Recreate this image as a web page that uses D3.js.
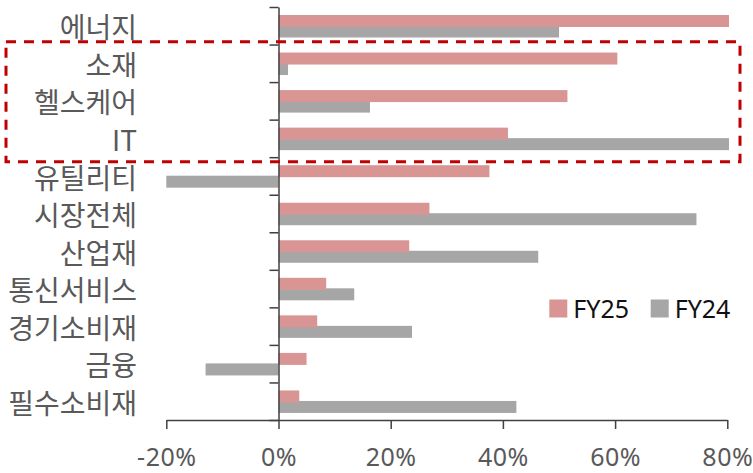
<!DOCTYPE html>
<html>
<head>
<meta charset="utf-8">
<script src="https://cdn.jsdelivr.net/npm/d3@7"></script>
<style>
  body { margin: 0; background: #fff; }
  svg { display: block; }
  .cat { font-family: "Noto Sans CJK KR", sans-serif; font-size: 28px; fill: #595959; }
  .xaxis text { font-family: "Noto Sans", sans-serif; font-size: 25px; letter-spacing: 0.5px; fill: #595959; }
  .legend text { font-family: "Noto Sans", sans-serif; font-size: 25px; fill: #111; }
</style>
</head>
<body>
<div class="canvas"></div>
<script>
// chart data
var categories = ["에너지", "소재", "헬스케어", "IT", "유틸리티", "시장전체", "산업재", "통신서비스", "경기소비재", "금융", "필수소비재"];
var fy25 = [80.3, 60.4, 51.5, 40.9, 37.6, 26.9, 23.3, 8.5, 6.9, 5.0, 3.7];
var fy24 = [50.0, 1.7, 16.3, 80.3, -20.0, 74.5, 46.3, 13.5, 23.8, -13.0, 42.4];
var seriesNames = ["FY25", "FY24"];
var seriesColors = ["#d99594", "#a6a6a6"];
var xTicks = [-20, 0, 20, 40, 60, 80];

var width = 753, height = 473;

var svg = d3.select(".canvas").append("svg")
    .attr("width", width)
    .attr("height", height);

var x = d3.scaleLinear().domain([-20, 80]).range([166.3, 727.3]);
var y = d3.scaleBand().domain(categories).range([7, 420]);
// band boundaries for the tick marks
var yEdge = d3.scaleLinear().domain([0, categories.length]).range([7, 420]);

var axisColor = "#404040";

// bars: FY24 first so FY25 sits on top
var rows = categories.map((c, i) => ({ cat: c, fy25: fy25[i], fy24: fy24[i] }));

svg.append("g").selectAll("rect")
    .data(rows)
    .enter().append("rect")
    .attr("x", d => x(Math.min(0, d.fy24)))
    .attr("y", d => y(d.cat) + 18.5)
    .attr("width", d => Math.abs(x(d.fy24) - x(0)))
    .attr("height", 12)
    .attr("fill", seriesColors[1]);

svg.append("g").selectAll("rect")
    .data(rows)
    .enter().append("rect")
    .attr("x", d => x(Math.min(0, d.fy25)))
    .attr("y", d => y(d.cat) + 8)
    .attr("width", d => Math.abs(x(d.fy25) - x(0)))
    .attr("height", 12)
    .attr("fill", seriesColors[0]);

// x axis
var xAxis = svg.append("g")
    .attr("class", "xaxis")
    .attr("transform", "translate(0,420)")
    .call(d3.axisBottom(x).tickValues(xTicks).tickSize(9).tickSizeOuter(0).tickPadding(19)
        .tickFormat(d => d + "%"));
xAxis.select(".domain").attr("stroke", axisColor).attr("stroke-width", 1.5);
xAxis.selectAll(".tick line").attr("stroke", axisColor).attr("stroke-width", 1.5);

// y axis
var yAxis = svg.append("g")
    .attr("transform", "translate(" + x(0) + ",0)")
    .call(d3.axisLeft(yEdge).tickValues(d3.range(categories.length + 1)).tickSize(9)
        .tickSizeOuter(0).tickFormat(""));
yAxis.select(".domain").attr("stroke", axisColor).attr("stroke-width", 1.5);
yAxis.selectAll(".tick line").attr("stroke", axisColor).attr("stroke-width", 1.5);

// category labels
svg.append("g").selectAll("text")
    .data(categories)
    .enter().append("text")
    .attr("class", "cat")
    .attr("x", 137)
    .attr("y", d => y(d) + y.bandwidth() / 2)
    .attr("dy", "0.45em")
    .attr("text-anchor", "end")
    .text(d => d);

// highlight box
svg.append("rect")
    .attr("x", 6)
    .attr("y", 41.7)
    .attr("width", 734)
    .attr("height", 120)
    .attr("fill", "none")
    .attr("stroke", "#c00000")
    .attr("stroke-width", 3)
    .attr("stroke-dasharray", "10,8");

// legend
var legend = svg.append("g").attr("class", "legend");
var legendX = [549.3, 650.7];
seriesNames.forEach((name, i) => {
    legend.append("rect")
        .attr("x", legendX[i])
        .attr("y", 299.5)
        .attr("width", 18)
        .attr("height", 18)
        .attr("fill", seriesColors[i]);
    legend.append("text")
        .attr("x", legendX[i] + 24)
        .attr("y", 308.5)
        .attr("dy", "0.36em")
        .text(name);
});
</script>
</body>
</html>
